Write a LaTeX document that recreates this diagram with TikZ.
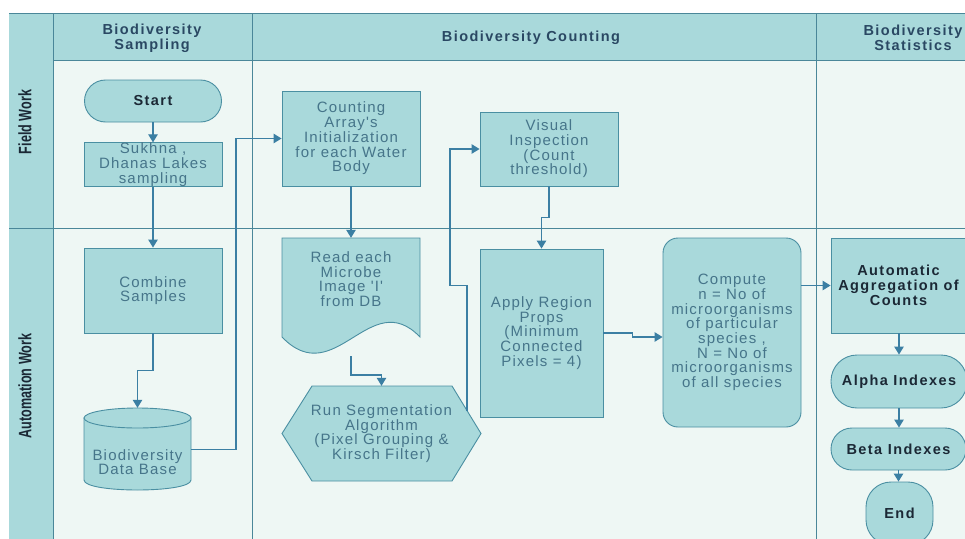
\documentclass[tikz,border=0pt]{standalone}
\usepackage{fontspec}
\usepackage{graphicx}
\setmainfont{Liberation Sans}
\newfontfamily\spacedsans[LetterSpace=8]{Liberation Sans}
\newfontfamily\spacedbold[LetterSpace=10]{Liberation Sans}
\usetikzlibrary{arrows.meta}
\definecolor{hdrc}{HTML}{A9D9DB}
\definecolor{bodyc}{HTML}{EEF7F4}
\definecolor{boxc}{HTML}{A9D9DB}
\definecolor{bord}{HTML}{4A8FA2}
\definecolor{linec}{HTML}{3B7FA3}
\definecolor{txtc}{HTML}{46758A}
\definecolor{btxt}{HTML}{1B2835}
\definecolor{htxt}{HTML}{2A4863}
\definecolor{gridc}{HTML}{4A8799}
\newcommand\txtfont{\spacedsans\fontsize{15}{14.7}\selectfont}
\newcommand\boldtxtfont{\spacedbold\bfseries\fontsize{14.5}{15}\selectfont}
\newcommand\lanefont{\normalfont\bfseries\fontsize{18}{18}\selectfont}
\begin{document}
\begin{tikzpicture}[x=1pt,y=-1pt,
 arr/.style={draw=linec, line width=1.1pt, -{Triangle[width=9.5pt,length=8pt]}},
 box/.style={draw=bord, fill=boxc, line width=0.9pt, inner sep=0pt, align=center, text=txtc, font=\txtfont},
 bbox/.style={box, text=btxt, font=\boldtxtfont},
 pill/.style={bbox, rounded corners=#1},
 ghost/.style={inner sep=0pt, align=center, text=txtc, font=\txtfont},
 hdr/.style={text=htxt, font=\boldtxtfont, align=center, inner sep=0pt},
 lane/.style={text=btxt, font=\lanefont, rotate=90, inner sep=0pt},
 grid/.style={draw=gridc, line width=1pt},
 shapeline/.style={draw=bord, fill=boxc, line width=0.9pt}]
\clip (0,0) rectangle (965,538);
\fill[white] (0,0) rectangle (965,538);
% lanes background
\fill[bodyc] (9,13) rectangle (975,545);
\fill[hdrc] (9,13) rectangle (975,60);
\fill[hdrc] (9,13) rectangle (53,545);
\draw[grid] (9,13) -- (975,13);
\draw[grid] (53,60) -- (975,60);
\draw[grid] (9,228) -- (975,228);
\draw[grid] (53,13) -- (53,545);
\draw[grid] (252,13) -- (252,545);
\draw[grid] (816,13) -- (816,545);
% headers
\node[hdr] (h1) at (152,38) {Biodiversity\\Sampling};
\node[hdr] (h2) at (531,38) {Biodiversity Counting};
\node[hdr] (h3) at (913,38) {Biodiversity\\Statistics};
\node[lane] (l1) at (25,122) {\scalebox{0.7}[1]{Field Work}};
\node[lane] (l2) at (25,386) {\scalebox{0.7}[1]{Automation Work}};
% column 1
\node[pill=21pt, minimum width=137pt, minimum height=42pt] (start) at (153,101) {Start};
\node[box, minimum width=138pt, minimum height=43pt] (sukhna) at (153,164.5) {Sukhna ,\\Dhanas Lakes\\sampling};
\node[box, minimum width=138pt, minimum height=85pt] (combine) at (153,290.5) {Combine\\Samples};
% database cylinder
\path[shapeline] (84,418) -- (84,480) .. controls (84,493.33) and (191,493.33) .. (191,480) -- (191,418) -- cycle;
\path[shapeline] (137.5,418) ellipse [x radius=53.5, y radius=10];
\node[inner sep=0pt, minimum width=107pt, minimum height=83pt] (db) at (137.5,449.5) {};
\node[ghost] (dbtext) at (137.5,462) {Biodiversity\\Data Base};
% column 2
\node[box, minimum width=138pt, minimum height=95pt] (counting) at (351,138.5) {Counting\\Array's\\Initialization\\for each Water\\Body};
\path[shapeline] (282,238) -- (420,238) -- (420,337) .. controls (370,285) and (335,392) .. (282,337) -- cycle;
\node[ghost, minimum width=138pt, minimum height=82pt] (read) at (351,279) {Read each\\Microbe\\Image 'I'\\from DB};
\coordinate (readb) at (351,356);
\path[shapeline] (282,433.5) -- (312,386) -- (452,386) -- (481,433.5) -- (452,481) -- (312,481) -- cycle;
\node[ghost, minimum width=199pt, minimum height=95pt] (hex) at (381.5,433.5) {Run Segmentation\\Algorithm\\(Pixel Grouping \&\\Kirsch Filter)};
\coordinate (hexo) at (467,410.6);
\node[box, minimum width=138pt, minimum height=74pt] (visual) at (549,149) {Visual\\Inspection\\(Count\\threshold)};
\node[box, minimum width=123pt, minimum height=168pt] (apply) at (541.5,333) {Apply Region\\Props\\(Minimum\\Connected\\Pixels = 4)};
\node[box, rounded corners=15pt, minimum width=138pt, minimum height=189pt] (compute) at (732,332.5) {Compute\\n = No of\\microorganisms\\of particular\\species ,\\N = No of\\microorganisms\\of all species};
% column 3
\node[bbox, minimum width=135pt, minimum height=95pt] (auto) at (898.5,285.5) {Automatic\\Aggregation of\\Counts};
\node[pill=26pt, minimum width=136pt, minimum height=53pt] (alpha) at (899,381.5) {Alpha Indexes};
\node[pill=21pt, minimum width=135pt, minimum height=42pt] (beta) at (898.5,449) {Beta Indexes};
\node[pill=25pt, minimum width=67pt, minimum height=63pt] (end) at (899.5,513.5) {End};
% connectors
\draw[arr] (start) -- (sukhna);
\draw[arr] (sukhna) -- (combine);
\draw[arr] (combine.south) -- ++(0,37) -| (db.north);
\coordinate (j1) at (236,300);
\draw[arr] (db.east) -- (db.east -| j1) -- (j1 |- counting.west) -- (counting.west);
\draw[arr] (counting) -- (read.north);
\draw[arr] (readb) -- ++(0,19) -| (hex.north);
\draw[arr] (hexo) -- ++(0,-125) -- ++(-17,0) |- (visual.west);
\draw[arr] (visual.south) -- ++(0,31) -| (apply.north);
\draw[arr] (apply.east) -- ++(29,0) -- ++(0,4) -- (compute.west |- 0,337);
\draw[arr] (compute.east |- auto.west) -- (auto.west);
\draw[arr] (auto.south -| alpha.north) -- (alpha.north);
\draw[arr] (alpha.south) -- (beta.north -| alpha.south);
\draw[arr] (beta.south) -- (end.north -| beta.south);
\end{tikzpicture}
\end{document}
